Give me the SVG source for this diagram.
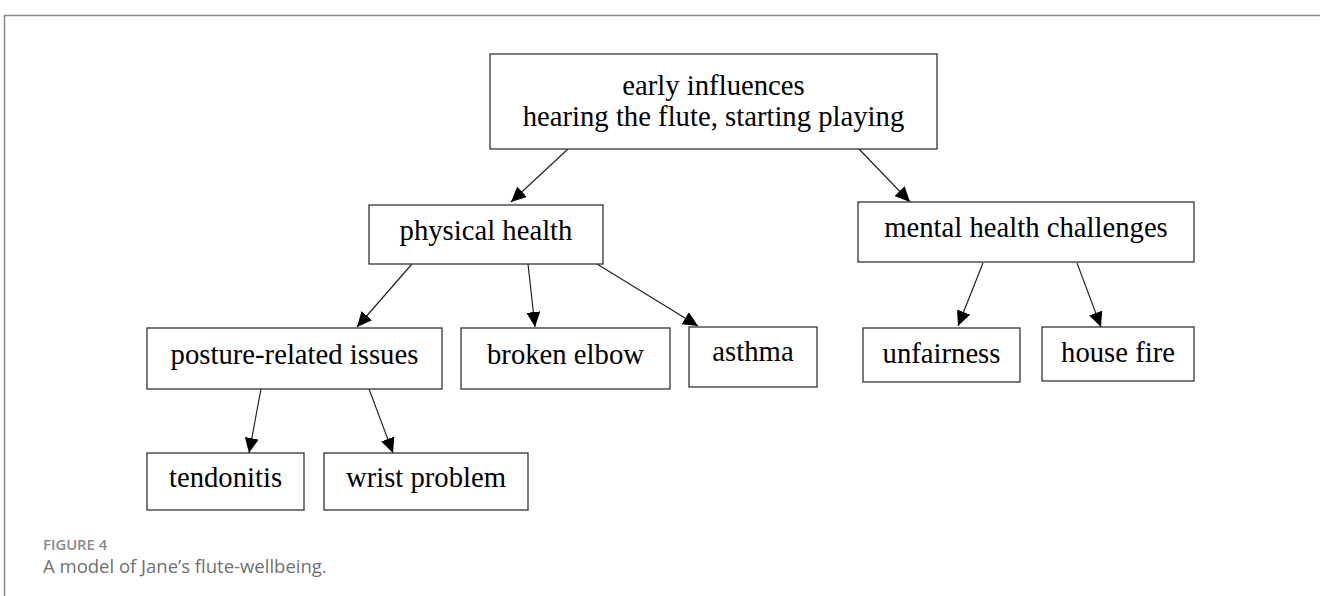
<svg xmlns="http://www.w3.org/2000/svg" width="1320" height="596" viewBox="0 0 1320 596">
<style>
.box{fill:#fff;stroke:#333;stroke-width:1.3}
.t{font-family:"Liberation Serif","Times New Roman",serif;font-size:28.7px;fill:#000;text-anchor:middle}
.e{stroke:#222;stroke-width:1.2;fill:none}
.frame{stroke:#8a8a8a;stroke-width:1.5;fill:none}
.cap1{font-family:"Open Sans","Liberation Sans",sans-serif;font-size:14.8px;font-weight:600;fill:#8a8a8a}
.cap2{font-family:"Open Sans","Liberation Sans",sans-serif;font-size:18.5px;fill:#707070}
</style>
<defs>
<marker id="ah" markerUnits="userSpaceOnUse" markerWidth="16" markerHeight="14" refX="15" refY="7" orient="auto">
<path d="M0,0 L15,7 L0,14 z" fill="#000"/>
</marker>
</defs>
<rect width="1320" height="596" fill="#fff"/>
<path class="frame" d="M4.5,596 V15.5 H1320"/>
<g id="connectors">
<line class="e" x1="568" y1="149" x2="511" y2="202" marker-end="url(#ah)"/>
<line class="e" x1="858" y1="148" x2="910" y2="202" marker-end="url(#ah)"/>
<line class="e" x1="412" y1="264" x2="357" y2="327" marker-end="url(#ah)"/>
<line class="e" x1="528" y1="264" x2="535" y2="327" marker-end="url(#ah)"/>
<line class="e" x1="597" y1="264" x2="698" y2="326" marker-end="url(#ah)"/>
<line class="e" x1="983" y1="263" x2="958" y2="326" marker-end="url(#ah)"/>
<line class="e" x1="1077" y1="263" x2="1101" y2="327" marker-end="url(#ah)"/>
<line class="e" x1="261" y1="389" x2="249" y2="453" marker-end="url(#ah)"/>
<line class="e" x1="369" y1="389" x2="393" y2="453" marker-end="url(#ah)"/>
</g>
<g id="early">
<rect class="box" x="490" y="54" width="447" height="95"/>
<text class="t" x="713.5" y="95">early influences</text>
<text class="t" x="713.5" y="126">hearing the flute, starting playing</text>
</g>
<g id="physical">
<rect class="box" x="369" y="205" width="234" height="59"/>
<text class="t" x="486" y="240">physical health</text>
</g>
<g id="mental">
<rect class="box" x="858" y="202" width="336" height="60"/>
<text class="t" x="1026" y="237">mental health challenges</text>
</g>
<g id="posture">
<rect class="box" x="147" y="328" width="295" height="61"/>
<text class="t" x="294.5" y="364">posture-related issues</text>
</g>
<g id="elbow">
<rect class="box" x="461" y="328" width="209" height="61"/>
<text class="t" x="565.5" y="364">broken elbow</text>
</g>
<g id="asthma">
<rect class="box" x="689" y="327" width="128" height="60"/>
<text class="t" x="753" y="361">asthma</text>
</g>
<g id="unfairness">
<rect class="box" x="863" y="328" width="157" height="54"/>
<text class="t" x="941.5" y="363">unfairness</text>
</g>
<g id="housefire">
<rect class="box" x="1042" y="327" width="152" height="54"/>
<text class="t" x="1118" y="362">house fire</text>
</g>
<g id="tendonitis">
<rect class="box" x="147" y="453" width="157" height="57"/>
<text class="t" x="225.5" y="487">tendonitis</text>
</g>
<g id="wrist">
<rect class="box" x="324" y="453" width="204" height="57"/>
<text class="t" x="426" y="487">wrist problem</text>
</g>
<text class="cap1" x="43" y="550">FIGURE 4</text>
<text class="cap2" x="43" y="573">A model of Jane’s flute-wellbeing.</text>
</svg>
